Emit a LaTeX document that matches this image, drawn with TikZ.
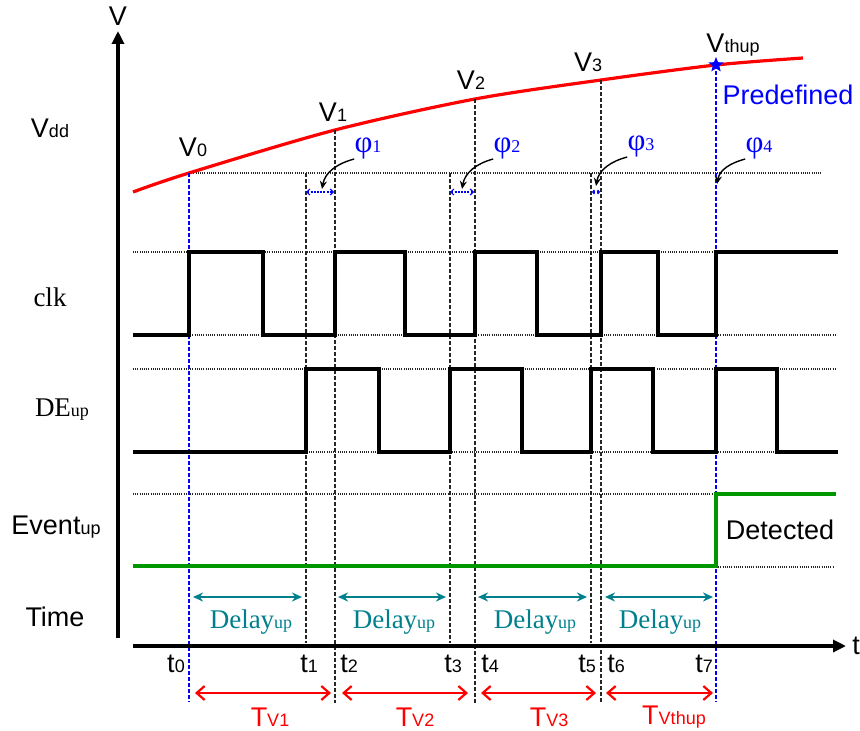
\documentclass[tikz,border=0pt]{standalone}
\usepackage{fontspec}
\setmainfont{Liberation Serif}
\setsansfont{Liberation Sans}
\usepackage{tikz}
\usetikzlibrary{arrows.meta,shapes.geometric}
\definecolor{redx}{RGB}{255,0,0}
\definecolor{bluex}{RGB}{0,0,255}
\definecolor{tealx}{RGB}{0,128,140}
\definecolor{greenx}{RGB}{0,150,0}
\newcommand{\sm}[1]{{\fontsize{9}{9}\selectfont #1}}
\tikzset{
  ax/.style={-{Triangle[length=6.5pt,width=6pt]},line width=1.6pt},
  sig/.style={line width=1.6pt},
  lvl/.style={line width=0.6pt,dash pattern=on 0.5pt off 0.6pt,black!85},
  tline/.style={line width=1pt,dash pattern=on 2pt off 1pt,black!85},
  bline/.style={line width=0.8pt,dash pattern=on 2pt off 1pt,bluex},
  supply/.style={line width=1.6pt,redx},
  lab/.style={font=\sffamily\fontsize{13.5}{13.5}\selectfont,inner sep=0pt},
  rlab/.style={font=\rmfamily\fontsize{13.5}{13.5}\selectfont,inner sep=0pt},
  phlab/.style={font=\rmfamily\fontsize{15.5}{15.5}\selectfont,text=bluex,inner sep=0pt},
  dly/.style={{Stealth[length=5pt,width=4.5pt]}-{Stealth[length=5pt,width=4.5pt]},line width=1.3pt,tealx},
  per/.style={{Straight Barb[length=4pt,width=7pt]}-{Straight Barb[length=4pt,width=7pt]},line width=1.1pt,redx},
  pha/.style={{Straight Barb[length=1.5pt,width=3pt]}-{Straight Barb[length=1.5pt,width=3pt]},line width=0.6pt,dash pattern=on 1pt off 0.6pt,bluex},
  curl/.style={-{Stealth[length=4pt,width=3.5pt]},line width=0.7pt}
}
\begin{document}
\begin{tikzpicture}[x=0.5pt,y=-0.5pt]
\useasboundingbox (0,0) rectangle (860,731);
% level guides
\draw[lvl] (189,173) -- (822,173);
\draw[lvl] (133,252) -- (836,252);
\draw[lvl] (133,335) -- (836,335);
\draw[lvl] (133,369) -- (836,369);
\draw[lvl] (133,452) -- (836,452);
\draw[lvl] (133,494) -- (836,494);
\draw[lvl] (716,567) -- (834,567);
% supply voltage
\coordinate (v0) at (189,173);
\coordinate (v1) at (335,130);
\coordinate (v2) at (475,99);
\coordinate (v3) at (601,80);
\coordinate (vth) at (716,65);
\draw[supply] plot[smooth] coordinates {(133,192) (189,173) (335,130) (475,99) (601,80) (716,65) (803,58)};
% time markers
\draw[bline] (v0) -- (189,702);
\draw[bline] (vth) -- (716,702);
\draw[tline] (306,173) -- (306,643);
\draw[tline] (v1) -- (335,703);
\draw[tline] (450,173) -- (450,643);
\draw[tline] (v2) -- (475,703);
\draw[tline] (591,173) -- (591,643);
\draw[tline] (v3) -- (601,703);
\node[star,star points=5,star point ratio=2.3,fill=bluex,inner sep=0pt,minimum size=8pt] (thstar) at (vth) {};
% waveforms
\draw[sig] (133,335) -| (189,252) -| (263,335) -| (335,252) -| (405,335) -| (475,252)
  -| (537,335) -| (601,252) -| (658,335) -| (716,252) -- (838,252);
\draw[sig] (133,452) -| (306,369) -| (379,452) -| (450,369) -| (522,452) -| (591,369)
  -| (653,452) -| (716,369) -| (777,452) -- (838,452);
\draw[sig,greenx] (133,566) -| (716,494) -- (836,494);
% axes
\draw[ax] (118,638) -- (118,31);
\draw[ax] (133,646) -- (846,646);
\node[lab] (vaxis) at (118,16) {V};
\node[lab] (taxis) at (856,646) {t};
% row labels
\node[lab] (lvdd) at (50,128) {V\sm{dd}};
\node[rlab] (lclk) at (50,297) {clk};
\node[rlab] (lde) at (62,410) {DE\sm{up}};
\node[lab] (levent) at (56,527) {Event\sm{up}};
\node[lab] (ltime) at (55,617) {Time};
% voltage labels
\node[lab] (lv0) at (193,147) {V\sm{0}};
\node[lab] (lv1) at (333,112) {V\sm{1}};
\node[lab] (lv2) at (471,80) {V\sm{2}};
\node[lab] (lv3) at (588,62) {V\sm{3}};
\node[lab] (lvth) at (733,45) {V\sm{thup}};
\node[lab,text=bluex] (lpre) at (788,95) {Predefined};
\node[lab] (ldet) at (780,530) {Detected};
% phase offsets
\node[phlab] (ph1) at (368,148) {φ\sm{1}};
\node[phlab] (ph2) at (507,148) {φ\sm{2}};
\node[phlab] (ph3) at (641,146) {φ\sm{3}};
\node[phlab] (ph4) at (759,148) {φ\sm{4}};
\coordinate (p1) at (322,189);
\coordinate (p2) at (462,189);
\coordinate (p3) at (596,186);
\coordinate (p4) at (717,184);
\draw[curl] (ph1.south west) to[out=195,in=80] (p1);
\draw[curl] (ph2.south west) to[out=195,in=80] (p2);
\draw[curl] (ph3.south west) to[out=195,in=80] (p3);
\draw[curl] (ph4.south west) to[out=195,in=80] (p4);
\coordinate (pa1) at (306,192); \coordinate (pb1) at (334,192);
\coordinate (pa2) at (450,192); \coordinate (pb2) at (474,192);
\coordinate (pa3) at (592,192); \coordinate (pb3) at (600,192);
\draw[pha] (pa1) -- (pb1);
\draw[pha] (pa2) -- (pb2);
\draw[pha,{Straight Barb[length=0.8pt,width=2pt]}-{Straight Barb[length=0.8pt,width=2pt]}] (pa3) -- (pb3);
% delay arrows
\coordinate (da1) at (193,597); \coordinate (db1) at (302,597);
\coordinate (da2) at (338,597); \coordinate (db2) at (446,597);
\coordinate (da3) at (478,597); \coordinate (db3) at (587,597);
\coordinate (da4) at (605,597); \coordinate (db4) at (713,597);
\draw[dly] (da1) -- (db1);
\draw[dly] (da2) -- (db2);
\draw[dly] (da3) -- (db3);
\draw[dly] (da4) -- (db4);
\node[rlab,text=tealx] (ldl1) at (251,622) {Delay\sm{up}};
\node[rlab,text=tealx] (ldl2) at (394,622) {Delay\sm{up}};
\node[rlab,text=tealx] (ldl3) at (535,622) {Delay\sm{up}};
\node[rlab,text=tealx] (ldl4) at (660,622) {Delay\sm{up}};
% time instants
\node[lab] (lt0) at (176,664) {t\sm{0}};
\node[lab] (lt1) at (309,664) {t\sm{1}};
\node[lab] (lt2) at (349,664) {t\sm{2}};
\node[lab] (lt3) at (453,664) {t\sm{3}};
\node[lab] (lt4) at (490,664) {t\sm{4}};
\node[lab] (lt5) at (587,664) {t\sm{5}};
\node[lab] (lt6) at (616,664) {t\sm{6}};
\node[lab] (lt7) at (704,664) {t\sm{7}};
% sampling periods
\coordinate (ta1) at (195,693); \coordinate (tb1) at (331,693);
\coordinate (ta2) at (342,693); \coordinate (tb2) at (468,693);
\coordinate (ta3) at (481,693); \coordinate (tb3) at (596,693);
\coordinate (ta4) at (606,693); \coordinate (tb4) at (713,693);
\draw[per] (ta1) -- (tb1);
\draw[per] (ta2) -- (tb2);
\draw[per] (ta3) -- (tb3);
\draw[per] (ta4) -- (tb4);
\node[lab,text=redx] (ltv1) at (270,717) {T\sm{V1}};
\node[lab,text=redx] (ltv2) at (415,717) {T\sm{V2}};
\node[lab,text=redx] (ltv3) at (549,717) {T\sm{V3}};
\node[lab,text=redx] (ltv4) at (674,717) {T\sm{Vthup}};
\end{tikzpicture}
\end{document}
